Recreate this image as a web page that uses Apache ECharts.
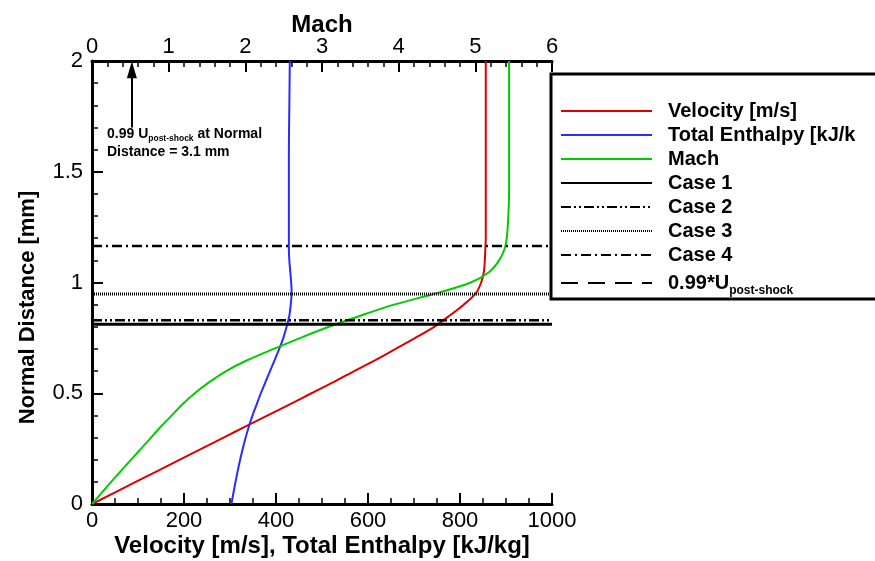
<!DOCTYPE html>
<html>
<head>
<meta charset="utf-8">
<script src="https://cdn.jsdelivr.net/npm/echarts@6/dist/echarts.min.js"></script>
<style>
html, body { margin: 0; padding: 0; background: #fff; }
#main { width: 875px; height: 561px; }
</style>
</head>
<body>
<div id="main"></div>
<script>
// normal distance [mm] shared by the three profile curves
var distance = [0, 0.1, 0.2, 0.3, 0.35, 0.4, 0.45, 0.5, 0.55, 0.6, 0.65, 0.7, 0.75, 0.8, 0.85, 0.9, 0.95, 1.0, 1.05, 1.1, 1.15, 1.2, 1.3, 1.4, 1.6, 1.8, 2.0];
var velocity = [0, 95, 191, 286, 334, 382, 430, 477, 525, 570, 616, 660, 703, 744, 777, 808, 834, 846, 852, 854, 855, 856, 856, 856, 856, 856, 856];
var enthalpy = [303, 312, 322, 334, 341, 349, 358, 367, 377, 387, 397, 407, 416, 423, 429, 432, 434, 433, 431, 429, 428, 428, 428, 428, 428, 429, 430];
var mach = [0, 0.25, 0.51, 0.77, 0.90, 1.04, 1.18, 1.34, 1.53, 1.75, 2.03, 2.37, 2.72, 3.09, 3.50, 3.94, 4.48, 4.94, 5.19, 5.31, 5.38, 5.41, 5.43, 5.44, 5.44, 5.44, 5.44];

var caseNames = ['Case 1', 'Case 2', 'Case 3', 'Case 4'];
var caseDistance = [0.811, 0.830, 0.948, 1.165];
var uPostShockName = '0.99*U post-shock';
var uPostShockDistance = 3.1;

// arrow of the note (Mach axis, mm)
var arrowMach = 0.52;
var arrowFrom = 1.70;
var arrowTo = 1.96;

var velocityRange = [0, 1000];
var machRange = [0, 6];
var distanceRange = [0, 2];

var font = 'Liberation Sans, Arial, Helvetica, sans-serif';

function pairs(xs, ys) {
    var out = [];
    for (var i = 0; i < xs.length; i++) {
        out.push([xs[i], ys[i]]);
    }
    return out;
}

function flatLine(y) {
    return [[velocityRange[0], y], [velocityRange[1], y]];
}

var caseStyles = [
    {type: 'solid', width: 3},
    {type: [10, 3, 2, 3, 2, 3], width: 2.5},
    {type: [1, 1], width: 3},
    {type: [10, 4, 2, 4], width: 2.5}
];

var axisLine = {show: true, onZero: false, lineStyle: {color: '#000', width: 3}};
var axisTick = {show: true, inside: true, length: 11, lineStyle: {color: '#000', width: 2}};
function minorTick(n) {
    return {show: true, splitNumber: n, length: 6, lineStyle: {color: '#000', width: 1.5}};
}
var nameStyle = {color: '#000', fontFamily: font, fontWeight: 'bold', fontSize: 24};

var series = [
    {
        name: 'Velocity [m/s]',
        type: 'line',
        xAxisIndex: 0,
        data: pairs(velocity, distance),
        symbol: 'none',
        smooth: 0.25,
        lineStyle: {color: '#dd0000', width: 2},
        itemStyle: {color: '#dd0000'}
    },
    {
        name: 'Total Enthalpy [kJ/kg]',
        type: 'line',
        xAxisIndex: 0,
        data: pairs(enthalpy, distance),
        symbol: 'none',
        smooth: 0.25,
        lineStyle: {color: '#2b2bff', width: 2},
        itemStyle: {color: '#2b2bff'}
    },
    {
        name: 'Mach',
        type: 'line',
        xAxisIndex: 1,
        data: pairs(mach, distance),
        symbol: 'none',
        smooth: 0.3,
        lineStyle: {color: '#00cc00', width: 2},
        itemStyle: {color: '#00cc00'},
        markLine: {
            silent: true,
            symbol: ['none', 'triangle'],
            symbolSize: [10, 17],
            label: {show: false},
            lineStyle: {color: '#000', width: 2, type: 'solid'},
            data: [[{coord: [arrowMach, arrowFrom]}, {coord: [arrowMach, arrowTo]}]]
        }
    }
];

for (var i = 0; i < caseNames.length; i++) {
    series.push({
        name: caseNames[i],
        type: 'line',
        xAxisIndex: 0,
        data: flatLine(caseDistance[i]),
        symbol: 'none',
        lineStyle: {color: '#000', width: caseStyles[i].width, type: caseStyles[i].type},
        itemStyle: {color: '#000'}
    });
}

series.push({
    name: uPostShockName,
    type: 'line',
    xAxisIndex: 0,
    data: flatLine(uPostShockDistance),
    symbol: 'none',
    lineStyle: {color: '#000', width: 2, type: [17, 10]},
    itemStyle: {color: '#000'}
});

var option = {
    animation: false,
    textStyle: {fontFamily: font},
    grid: {left: 92, right: 323, top: 61, bottom: 57, containLabel: false, outerBoundsMode: 'none'},
    legend: {
        orient: 'vertical',
        left: 551,
        top: 74,
        padding: [27, 40, 2, 9],
        itemWidth: 91,
        itemHeight: 20,
        itemGap: 4,
        selectedMode: false,
        borderColor: '#000',
        borderWidth: 3,
        itemStyle: {opacity: 0},
        textStyle: {
            color: '#000',
            fontFamily: font,
            fontWeight: 'bold',
            fontSize: 20,
            lineHeight: 20,
            width: 198,
            overflow: 'truncate',
            ellipsis: '',
            padding: [0, 0, 0, 11],
            rich: {
                base: {fontSize: 20, fontWeight: 'bold', lineHeight: 28, color: '#000'},
                sub: {fontSize: 12, fontWeight: 'bold', lineHeight: 12, verticalAlign: 'bottom', color: '#000'}
            }
        },
        formatter: function (name) {
            if (name === uPostShockName) {
                return '{base|0.99*U}{sub|post-shock}';
            }
            return name;
        },
        data: series.map(function (s) { return s.name; })
    },
    xAxis: [
        {
            type: 'value',
            position: 'bottom',
            min: velocityRange[0],
            max: velocityRange[1],
            interval: 200,
            name: 'Velocity [m/s], Total Enthalpy [kJ/kg]',
            nameLocation: 'middle',
            nameGap: 30,
            nameMoveOverlap: false,
            nameTextStyle: nameStyle,
            axisLine: axisLine,
            axisTick: axisTick,
            minorTick: minorTick(4),
            splitLine: {show: false},
            axisLabel: {
                color: '#000', fontFamily: font, fontSize: 22, margin: 6,
                formatter: function (v) { return String(v); }
            }
        },
        {
            type: 'value',
            position: 'top',
            min: machRange[0],
            max: machRange[1],
            interval: 1,
            name: 'Mach',
            nameLocation: 'middle',
            nameGap: 24,
            nameMoveOverlap: false,
            nameTextStyle: nameStyle,
            axisLine: axisLine,
            axisTick: axisTick,
            minorTick: minorTick(5),
            splitLine: {show: false},
            axisLabel: {color: '#000', fontFamily: font, fontSize: 22, margin: 3}
        }
    ],
    yAxis: [
        {
            type: 'value',
            min: distanceRange[0],
            max: distanceRange[1],
            interval: 0.5,
            name: 'Normal Distance [mm]',
            nameLocation: 'middle',
            nameGap: 53,
            nameMoveOverlap: false,
            nameTextStyle: {color: '#000', fontFamily: font, fontWeight: 'bold', fontSize: 22, padding: [0, 50, 0, 0]},
            axisLine: axisLine,
            axisTick: axisTick,
            minorTick: minorTick(5),
            splitLine: {show: false},
            axisLabel: {color: '#000', fontFamily: font, fontSize: 22, margin: 9}
        }
    ],
    graphic: [
        {
            type: 'text',
            left: 107,
            top: 127,
            style: {
                text: '{b|0.99 U}{s|post-shock}{b| at Normal}\n{b|Distance = 3.1 mm}',
                fill: '#000',
                rich: {
                    b: {fontFamily: font, fontSize: 14, fontWeight: 'bold', lineHeight: 18, fill: '#000'},
                    s: {fontFamily: font, fontSize: 8.5, fontWeight: 'bold', lineHeight: 9, verticalAlign: 'bottom', fill: '#000'}
                }
            }
        }
    ],
    series: series
};

var myChart = echarts.init(document.getElementById('main'));
myChart.setOption(option);
</script>
</body>
</html>
